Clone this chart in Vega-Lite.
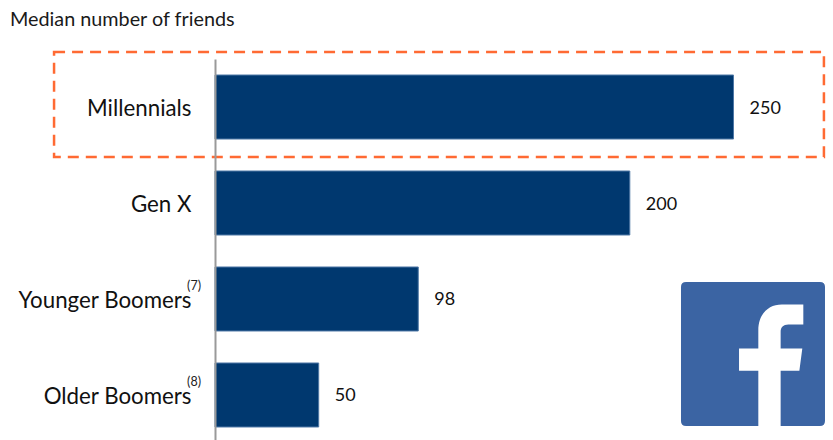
{
  "$schema": "https://vega.github.io/schema/vega-lite/v6.json",
  "width": 833,
  "height": 440,
  "padding": 0,
  "autosize": {"type": "none"},
  "background": "white",
  "view": {"stroke": null},
  "title": {
    "text": "Median number of friends",
    "anchor": "start",
    "frame": "group",
    "dx": 10,
    "offset": -30,
    "font": "Lato",
    "fontSize": 19.8,
    "fontWeight": "normal",
    "color": "#1a1a1a"
  },
  "datasets": {
    "friends": [
      {"generation": "Millennials", "median": 250, "note": ""},
      {"generation": "Gen X", "median": 200, "note": ""},
      {"generation": "Younger Boomers", "median": 98, "note": "(7)"},
      {"generation": "Older Boomers", "median": 50, "note": "(8)"}
    ],
    "highlight": [
      {"generation": "Millennials", "from": -77.6, "to": 293.6}
    ],
    "badge": [
      {"generation": "Older Boomers", "at": 259.4}
    ]
  },
  "data": {"name": "friends"},
  "encoding": {
    "y": {
      "field": "generation",
      "type": "nominal",
      "sort": ["Millennials", "Gen X", "Younger Boomers", "Older Boomers"],
      "title": null,
      "scale": {
        "domain": ["Millennials", "Gen X", "Younger Boomers", "Older Boomers"],
        "range": [59, 443],
        "paddingInner": 0.3333,
        "paddingOuter": 0.1667
      },
      "axis": {
        "orient": "left",
        "offset": -215,
        "ticks": false,
        "grid": false,
        "domainColor": "#9a9a9a",
        "domainWidth": 2,
        "labelFont": "Lato",
        "labelFontSize": 22.3,
        "labelColor": "#111111",
        "labelPadding": 24,
        "labelLimit": 300,
        "labelOffset": 2,
        "zindex": 1
      }
    }
  },
  "layer": [
    {
      "data": {"name": "highlight"},
      "mark": {
        "type": "rect",
        "height": 105,
        "yOffset": -2.5,
        "fillOpacity": 0,
        "stroke": "#FF6A33",
        "strokeWidth": 2.5,
        "strokeDash": [11, 7]
      },
      "encoding": {
        "x": {"field": "from", "type": "quantitative"},
        "x2": {"field": "to"}
      }
    },
    {
      "mark": {"type": "bar", "height": 64, "color": "#00386F", "stroke": "#4F78A6", "strokeWidth": 1},
      "encoding": {
        "x": {
          "field": "median",
          "type": "quantitative",
          "axis": null,
          "scale": {"domain": [0, 250], "range": [215, 733.5], "nice": false}
        }
      }
    },
    {
      "mark": {"type": "text", "align": "left", "baseline": "middle", "dx": 16, "dy": 1.5, "font": "Lato", "fontSize": 18, "color": "#111111"},
      "encoding": {
        "x": {"field": "median", "type": "quantitative"},
        "text": {"field": "median", "type": "quantitative"}
      }
    },
    {
      "transform": [{"filter": "datum.note !== ''"}],
      "mark": {"type": "text", "align": "right", "baseline": "middle", "dx": -14, "dy": -13, "font": "Lato", "fontSize": 12.5, "color": "#222222"},
      "encoding": {
        "x": {"datum": 0},
        "text": {"field": "note"}
      }
    },
    {
      "data": {"name": "badge"},
      "mark": {
        "type": "point",
        "filled": true,
        "opacity": 1,
        "color": "#3B64A3",
        "size": 20736,
        "yOffset": -41,
        "shape": "M-0.93 -1 L0.93 -1 Q1 -1 1 -0.93 L1 0.93 Q1 1 0.93 1 L-0.93 1 Q-1 1 -1 0.93 L-1 -0.93 Q-1 -1 -0.93 -1 Z"
      },
      "encoding": {
        "x": {"field": "at", "type": "quantitative"}
      }
    },
    {
      "data": {"name": "badge"},
      "mark": {
        "type": "point",
        "filled": true,
        "opacity": 1,
        "color": "#FFFFFF",
        "size": 20736,
        "yOffset": -41,
        "shape": "M0.074 1 L0.074 0.234 L-0.194 0.234 L-0.194 -0.076 L0.074 -0.076 L0.074 -0.331 C0.074 -0.55 0.21 -0.688 0.4 -0.688 L0.699 -0.688 L0.699 -0.41 L0.491 -0.41 C0.42 -0.41 0.384 -0.37 0.384 -0.308 L0.384 -0.076 L0.685 -0.076 L0.644 0.234 L0.384 0.234 L0.384 1 Z"
      },
      "encoding": {
        "x": {"field": "at", "type": "quantitative"}
      }
    }
  ],
  "config": {"axis": {"title": null}}
}
